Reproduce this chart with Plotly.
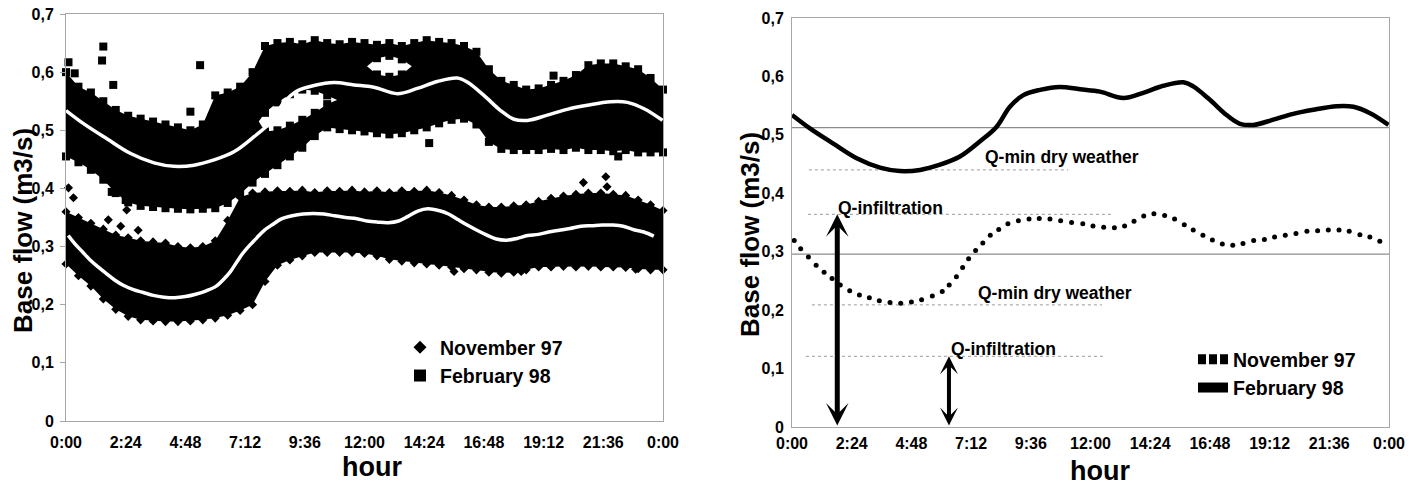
import plotly.graph_objects as go

# ---------------- data ----------------
tick_vals_x = [0, 2.4, 4.8, 7.2, 9.6, 12, 14.4, 16.8, 19.2, 21.6, 24]
tick_text_x = ["0:00", "2:24", "4:48", "7:12", "9:36", "12:00", "14:24", "16:48", "19:12", "21:36", "0:00"]
tick_vals_y = [0, 0.1, 0.2, 0.3, 0.4, 0.5, 0.6, 0.7]
tick_text_y = ["0", "0,1", "0,2", "0,3", "0,4", "0,5", "0,6", "0,7"]

# envelope of the measured clouds (half-hour grid)
hours = [0, 0.5, 1, 1.5, 2, 2.5, 3, 3.5, 4, 4.5, 5, 5.5, 6, 6.5, 7, 7.5, 8, 8.5, 9, 9.5,
         10, 10.5, 11, 11.5, 12, 12.5, 13, 13.5, 14, 14.5, 15, 15.5, 16, 16.5, 17, 17.5,
         18, 18.5, 19, 19.5, 20, 20.5, 21, 21.5, 22, 22.5, 23, 23.5, 24]
feb_hi = [0.600, 0.575, 0.565, 0.550, 0.535, 0.525, 0.520, 0.515, 0.510, 0.505, 0.500, 0.510,
          0.560, 0.565, 0.575, 0.600, 0.645, 0.650, 0.652, 0.648, 0.655, 0.650, 0.648, 0.652,
          0.650, 0.647, 0.650, 0.645, 0.650, 0.655, 0.652, 0.650, 0.645, 0.635, 0.605, 0.585,
          0.578, 0.570, 0.572, 0.578, 0.585, 0.595, 0.612, 0.615, 0.615, 0.610, 0.605, 0.590, 0.570]
feb_lo = [0.455, 0.445, 0.432, 0.415, 0.392, 0.376, 0.370, 0.368, 0.366, 0.365, 0.364, 0.365,
          0.366, 0.375, 0.390, 0.410, 0.425, 0.440, 0.455, 0.470, 0.490, 0.505, 0.502, 0.500,
          0.498, 0.495, 0.493, 0.495, 0.500, 0.505, 0.512, 0.518, 0.520, 0.510, 0.480, 0.468,
          0.466, 0.466, 0.466, 0.468, 0.466, 0.470, 0.466, 0.466, 0.464, 0.466, 0.462, 0.462, 0.462]
nov_hi = [0.360, 0.350, 0.340, 0.330, 0.320, 0.315, 0.310, 0.308, 0.306, 0.300, 0.298, 0.300,
          0.310, 0.345, 0.385, 0.392, 0.394, 0.396, 0.395, 0.397, 0.393, 0.396, 0.395, 0.397,
          0.394, 0.396, 0.393, 0.396, 0.395, 0.397, 0.393, 0.388, 0.380, 0.372, 0.368, 0.368,
          0.370, 0.372, 0.378, 0.383, 0.387, 0.390, 0.392, 0.392, 0.390, 0.388, 0.380, 0.372, 0.362]
nov_lo = [0.270, 0.250, 0.232, 0.210, 0.192, 0.180, 0.174, 0.172, 0.171, 0.171, 0.172, 0.174,
          0.177, 0.182, 0.190, 0.200, 0.240, 0.268, 0.277, 0.284, 0.290, 0.290, 0.290, 0.290,
          0.288, 0.284, 0.278, 0.275, 0.272, 0.270, 0.268, 0.265, 0.262, 0.260, 0.256, 0.254,
          0.256, 0.260, 0.265, 0.265, 0.266, 0.265, 0.266, 0.265, 0.265, 0.264, 0.262, 0.260, 0.260]

# empty pockets inside the February cloud
feb_gap1_h = [7.75, 8.0, 8.5, 9.0, 9.5, 10.0, 10.5, 10.9]
feb_gap1_lo = [0.515, 0.498, 0.500, 0.508, 0.518, 0.530, 0.545, 0.552]
feb_gap1_hi = [0.515, 0.530, 0.548, 0.562, 0.570, 0.568, 0.560, 0.552]
feb_gap2_h = [12.1, 12.5, 13.0, 13.5, 13.9]
feb_gap2_lo = [0.610, 0.596, 0.592, 0.596, 0.610]
feb_gap2_hi = [0.610, 0.624, 0.628, 0.622, 0.610]

# isolated points
feb_out_h = [0.1, 0.35, 1.5, 1.45, 1.9, 5.39, 5.0, 14.6, 22.2, 19.6, 1.84, 2.4]
feb_out_v = [0.617, 0.598, 0.644, 0.620, 0.578, 0.612, 0.532, 0.478, 0.455, 0.594, 0.394, 0.380]
nov_out_h = [0.1, 0.3, 1.7, 2.2, 2.44, 2.9, 20.8, 21.7, 21.75, 15.6, 18.3, 22.9]
nov_out_v = [0.401, 0.384, 0.346, 0.335, 0.363, 0.328, 0.410, 0.420, 0.403, 0.257, 0.257, 0.261]

# mean daily curves
nov_curve_h = [0.09, 0.35, 0.66, 0.97, 1.29, 1.61, 1.94, 2.32, 2.71, 3.11, 3.51, 3.94, 4.37, 4.8,
               5.21, 5.64, 6.04, 6.32, 6.61, 6.86, 7.1, 7.38, 7.67, 7.97, 8.31, 8.68, 9.1, 9.53,
               9.94, 10.37, 10.8, 11.24, 11.69, 12.1, 12.53, 12.96, 13.37, 13.75, 14.14, 14.55,
               14.98, 15.38, 15.77, 16.13, 16.52, 16.9, 17.3, 17.72, 18.13, 18.56, 18.99, 19.4,
               19.83, 20.26, 20.7, 21.13, 21.56, 21.99, 22.4, 22.83, 23.23, 23.63]
nov_curve_v = [0.319, 0.305, 0.291, 0.277, 0.265, 0.254, 0.243, 0.233, 0.226, 0.221, 0.216, 0.213,
               0.212, 0.214, 0.218, 0.224, 0.232, 0.243, 0.257, 0.273, 0.288, 0.302, 0.315, 0.328,
               0.338, 0.348, 0.353, 0.356, 0.357, 0.356, 0.353, 0.350, 0.348, 0.344, 0.342, 0.341,
               0.344, 0.352, 0.361, 0.365, 0.362, 0.356, 0.346, 0.337, 0.328, 0.320, 0.313, 0.311,
               0.314, 0.319, 0.321, 0.325, 0.328, 0.331, 0.335, 0.336, 0.337, 0.337, 0.335, 0.329,
               0.325, 0.318]
feb_curve_h = [0, 0.72, 1.66, 2.6, 3.54, 4.34, 5.15, 5.95, 6.75, 7.56, 8.23, 8.76, 9.3, 9.97,
               10.77, 11.58, 12.38, 13.32, 14.12, 14.93, 15.73, 16.13, 16.8, 17.47, 18.01, 18.55,
               19.35, 20.15, 20.96, 21.9, 22.57, 23.24, 23.98]
feb_curve_v = [0.534, 0.511, 0.485, 0.460, 0.444, 0.438, 0.440, 0.449, 0.463, 0.489, 0.514, 0.548,
               0.568, 0.577, 0.582, 0.578, 0.574, 0.563, 0.572, 0.584, 0.590, 0.583, 0.560, 0.534,
               0.519, 0.517, 0.526, 0.536, 0.543, 0.549, 0.548, 0.537, 0.517]

# reference levels on the right panel
mean_levels = [0.5125, 0.296]
ref_labels = ["Q-min dry weather", "Q-infiltration", "Q-min dry weather", "Q-infiltration"]
ref_levels = [0.440, 0.364, 0.209, 0.121]
ref_start = [0.68, 0.64, 0.80, 0.56]
ref_end = [11.1, 12.86, 12.46, 12.5]
arrow_h = [1.82, 6.31]
arrow_top = [0.364, 0.121]

# ---------------- figure ----------------
W, H = 1424, 489
FONT = "Liberation Sans, Arial, sans-serif"
fig = go.Figure()

def px_x(p):
    return p / W

def px_y(p):
    return 1 - p / H

L = dict(xaxis="x", yaxis="y")
R = dict(xaxis="x2", yaxis="y2")

def band(lo, hi, h):
    fig.add_trace(go.Scatter(x=h, y=lo, mode="lines", line=dict(width=0), showlegend=False,
                             hoverinfo="skip", **L))
    fig.add_trace(go.Scatter(x=h, y=hi, mode="lines", line=dict(width=0), fill="tonexty",
                             fillcolor="black", showlegend=False, hoverinfo="skip", **L))

def gap(h, lo, hi):
    fig.add_trace(go.Scatter(x=h + h[::-1], y=lo + hi[::-1], mode="lines", line=dict(width=0),
                             fill="toself", fillcolor="white", showlegend=False,
                             hoverinfo="skip", **L))

# bands
band(feb_lo, feb_hi, hours)
gap(feb_gap1_h, feb_gap1_lo, feb_gap1_hi)
gap(feb_gap2_h, feb_gap2_lo, feb_gap2_hi)
band(nov_lo, nov_hi, hours)

# marker edges of the clouds
fig.add_trace(go.Scatter(
    x=hours + hours + feb_gap1_h[1:-1] + feb_gap1_h[1:-1] + feb_gap2_h[1:-1] + feb_gap2_h[1:-1] + feb_out_h,
    y=feb_hi + feb_lo + feb_gap1_lo[1:-1] + feb_gap1_hi[1:-1] + feb_gap2_lo[1:-1] + feb_gap2_hi[1:-1] + feb_out_v,
    mode="markers", marker=dict(symbol="square", size=8, color="black"),
    showlegend=False, cliponaxis=False, **L))
fig.add_trace(go.Scatter(
    x=hours + hours + nov_out_h, y=nov_hi + nov_lo + nov_out_v,
    mode="markers", marker=dict(symbol="diamond", size=7, color="black"),
    showlegend=False, cliponaxis=False, **L))

# white mean curves on the left
fig.add_trace(go.Scatter(x=feb_curve_h, y=feb_curve_v, mode="lines",
                         line=dict(color="white", width=3.5, shape="spline"), showlegend=False, **L))
fig.add_trace(go.Scatter(x=nov_curve_h, y=nov_curve_v, mode="lines",
                         line=dict(color="white", width=3.5, shape="spline"), showlegend=False, **L))

# left legend entries
fig.add_trace(go.Scatter(x=[None], y=[None], mode="markers", name="November 97",
                         marker=dict(symbol="diamond", size=10, color="black"), legend="legend", **L))
fig.add_trace(go.Scatter(x=[None], y=[None], mode="markers", name="February 98",
                         marker=dict(symbol="square", size=12, color="black"), legend="legend", **L))

# right panel: mean lines
for lv in mean_levels:
    fig.add_trace(go.Scatter(x=[0, 24], y=[lv, lv], mode="lines",
                             line=dict(color="#8c8c8c", width=1.2), showlegend=False, **R))
for lv, s, e in zip(ref_levels, ref_start, ref_end):
    fig.add_trace(go.Scatter(x=[s, e], y=[lv, lv], mode="lines",
                             line=dict(color="#9a9a9a", width=1, dash="dot"), showlegend=False, **R))

fig.add_trace(go.Scatter(x=nov_curve_h, y=nov_curve_v, mode="markers",
                         marker=dict(symbol="circle", size=5, color="black"),
                         showlegend=False, **R))
fig.add_trace(go.Scatter(x=feb_curve_h, y=feb_curve_v, mode="lines",
                         line=dict(color="black", width=4.5, shape="spline"),
                         showlegend=False, **R))
fig.add_trace(go.Scatter(x=[None], y=[None], mode="lines", name="November 97",
                         line=dict(color="black", width=10, dash="8px,3px"), legend="legend2", **R))
fig.add_trace(go.Scatter(x=[None], y=[None], mode="lines", name="February 98",
                         line=dict(color="black", width=10), legend="legend2", **R))

# ---------------- layout ----------------
tickfont = dict(family=FONT, size=16, color="black", weight="bold")
frame = "#a6a6a6"
common_x = dict(range=[0, 24], tickvals=tick_vals_x, ticktext=tick_text_x, showgrid=False,
                zeroline=False, showline=True, mirror=True, linecolor=frame, linewidth=1,
                ticks="", tickfont=tickfont, automargin=False)
common_y = dict(range=[0, 0.7], tickvals=tick_vals_y, ticktext=tick_text_y, showgrid=False,
                zeroline=False, showline=True, mirror=True, linecolor=frame, linewidth=1,
                tickfont=tickfont, automargin=False)

annotations = []
# axis titles
for x, y, t, ang, sz in [(23, 231, "Base flow (m3/s)", -90, 26), (750, 235, "Base flow (m3/s)", -90, 26),
                         (372, 467, "hour", 0, 27), (1100, 471, "hour", 0, 27)]:
    annotations.append(dict(x=px_x(x), y=px_y(y), xref="paper", yref="paper", text=t,
                            textangle=ang, showarrow=False, xanchor="center", yanchor="middle",
                            font=dict(family=FONT, size=sz, color="black", weight="bold")))
# labels of reference levels
label_pos = [(10.85, 0.462), (3.94, 0.375), (10.57, 0.229), (8.52, 0.134)]
for (x, y), t in zip(label_pos, ref_labels):
    annotations.append(dict(x=x, y=y, xref="x2", yref="y2", text=t, showarrow=False,
                            xanchor="center", yanchor="middle",
                            font=dict(family=FONT, size=17.5, color="black", weight="bold")))
# double arrows
for h, top, w in zip(arrow_h, arrow_top, [5, 4]):
    annotations.append(dict(x=h, y=top, ax=h, ay=0, xref="x2", yref="y2", axref="x2", ayref="y2",
                            text="", showarrow=True, arrowside="end+start", arrowhead=3,
                            startarrowhead=3, arrowwidth=w, arrowsize=0.75, startarrowsize=0.75,
                            arrowcolor="black", standoff=0, startstandoff=0))

fig.update_layout(
    width=W, height=H, margin=dict(l=0, r=0, t=0, b=0, autoexpand=False),
    paper_bgcolor="white", plot_bgcolor="white",
    xaxis=dict(domain=[px_x(66), px_x(663)], anchor="y", ticklabelstandoff=7, **common_x),
    yaxis=dict(domain=[px_y(421), px_y(14)], anchor="x", ticks="outside", ticklen=5,
               tickcolor=frame, ticklabelstandoff=3, **common_y),
    xaxis2=dict(domain=[px_x(792), px_x(1389)], anchor="y2", ticklabelstandoff=2, **common_x),
    yaxis2=dict(domain=[px_y(427), px_y(18)], anchor="x2", ticks="", ticklabelstandoff=4,
                **common_y),
    legend=dict(x=px_x(400), y=px_y(328), xanchor="left", yanchor="top", traceorder="normal",
                bgcolor="rgba(0,0,0,0)", font=dict(family=FONT, size=19.5, color="black", weight="bold"),
                itemwidth=30, tracegroupgap=0),
    legend2=dict(x=px_x(1193), y=px_y(340), xanchor="left", yanchor="top", traceorder="normal",
                 bgcolor="rgba(0,0,0,0)", font=dict(family=FONT, size=19.5, color="black", weight="bold"),
                 itemwidth=30, tracegroupgap=0),
    annotations=annotations,
    showlegend=True,
)

fig.write_html("out.html", config={"displayModeBar": False},
               post_script="document.body.style.margin='0';")
